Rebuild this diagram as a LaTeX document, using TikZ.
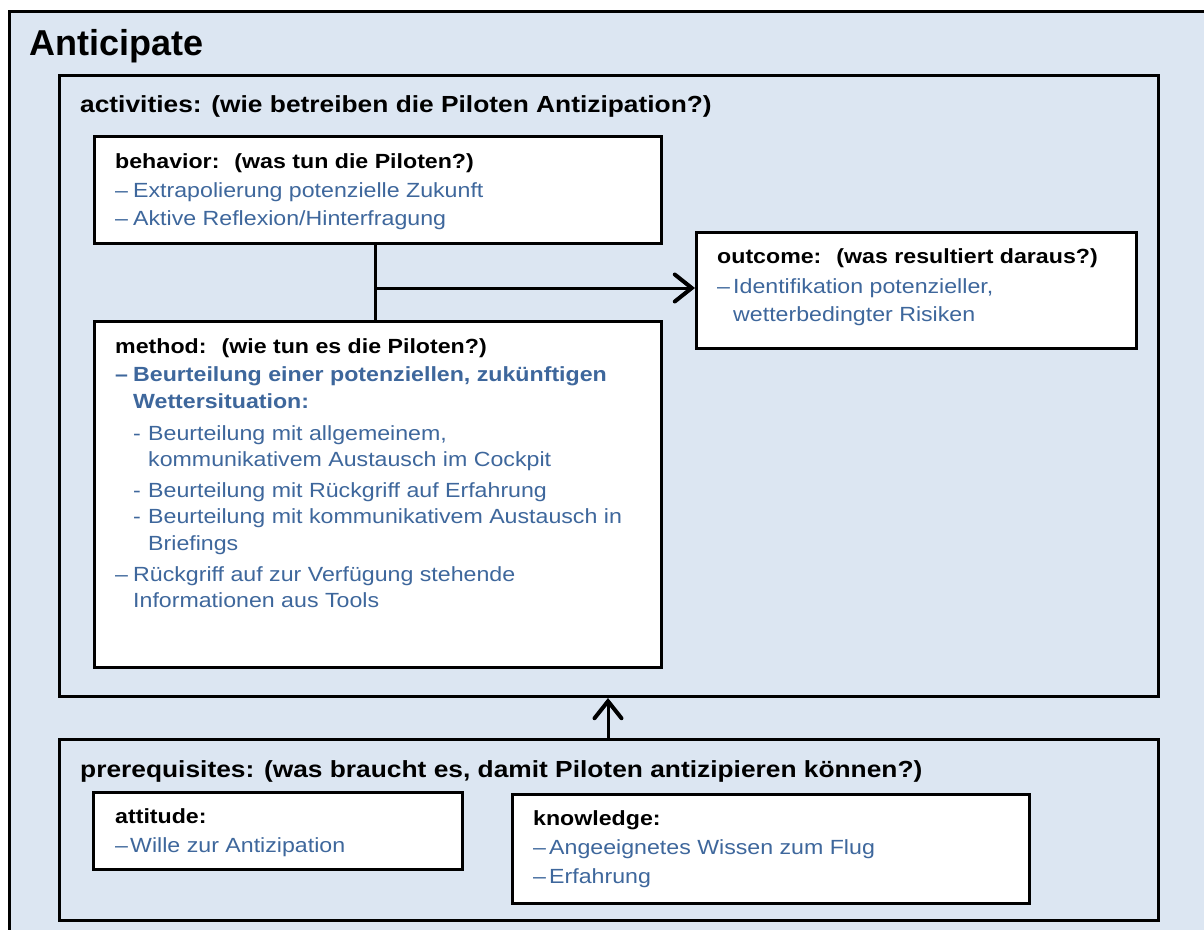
\documentclass[tikz,border=0pt]{standalone}
\usepackage{fontspec}
\setmainfont{Liberation Sans}
\newfontfamily\wide[FakeStretch=1.13]{Liberation Sans}
\usetikzlibrary{arrows.meta}
\definecolor{bgblue}{HTML}{DCE6F2}
\definecolor{txtblue}{HTML}{3E679C}
\tikzset{
  boxw/.style={draw=black, line width=3pt, fill=white, inner sep=0pt, anchor=north west},
  boxb/.style={draw=black, line width=3pt, fill=bgblue, inner sep=0pt, anchor=north west},
  lbl/.style={anchor=base west, inner sep=0pt, font=\wide\fontsize{20.5}{24}\selectfont},
  hd/.style={lbl, font=\wide\bfseries\fontsize{20.5}{24}\selectfont, text=black},
  sec/.style={anchor=base west, inner sep=0pt, font=\wide\bfseries\fontsize{23.3}{28}\selectfont, text=black},
  itm/.style={lbl, text=txtblue},
  itmb/.style={lbl, text=txtblue, font=\wide\bfseries\fontsize{20.5}{24}\selectfont},
  conn/.style={line width=3pt},
  arr/.style={line width=3pt, -{Straight Barb[length=17pt,width=27pt,line width=4pt,line cap=round]}}
}
\newcommand{\dsh}{\makebox[18pt][l]{–}}
\newcommand{\hy}{\makebox[15pt][l]{-}}
\begin{document}
\begin{tikzpicture}[x=1pt,y=-1pt]
\clip (0,0) rectangle (1204,929);
\fill[white] (0,0) rectangle (1204,929);
\draw[line width=3pt, fill=bgblue] (9,11) rectangle (1240,960);
\node[anchor=base west, inner sep=0pt, font=\bfseries\fontsize{36}{40}\selectfont] (title) at (29,55) {Anticipate};

% activities
\node[boxb, minimum width=1099pt, minimum height=621pt] (act) at (58,74) {};
\node[sec] (actt) at (80,112) {activities: (wie betreiben die Piloten Antizipation?)};

% behavior
\node[boxw, minimum width=567pt, minimum height=107pt] (beh) at (93,135) {};
\node[hd] (beht) at (115,168) {behavior: \ (was tun die Piloten?)};
\node[itm] (beh1) at (115,197) {\dsh Extrapolierung potenzielle Zukunft};
\node[itm] (beh2) at (115,225) {\dsh Aktive Reflexion/Hinterfragung};

% method
\node[boxw, minimum width=567pt, minimum height=346pt] (meth) at (93,320) {};
\node[hd] (metht) at (115,353) {method: \ (wie tun es die Piloten?)};
\node[itmb] (m1) at (115,381) {\dsh Beurteilung einer potenziellen, zukünftigen};
\node[itmb] (m2) at (133,408) {Wettersituation:};
\node[itm] (m3) at (133,440) {\hy Beurteilung mit allgemeinem,};
\node[itm] (m4) at (148,466) {kommunikativem Austausch im Cockpit};
\node[itm] (m5) at (133,497) {\hy Beurteilung mit Rückgriff auf Erfahrung};
\node[itm] (m6) at (133,523) {\hy Beurteilung mit kommunikativem Austausch in};
\node[itm] (m7) at (148,550) {Briefings};
\node[itm] (m8) at (115,581) {\dsh Rückgriff auf zur Verfügung stehende};
\node[itm] (m9) at (133,607) {Informationen aus Tools};

% outcome
\node[boxw, minimum width=440pt, minimum height=116pt] (out) at (695,231) {};
\node[hd] (outt) at (717,263) {outcome: \ (was resultiert daraus?)};
\node[itm] (out1) at (717,293) {\makebox[16pt][l]{–}Identifikation potenzieller,};
\node[itm] (out2) at (733,321) {wetterbedingter Risiken};

% connectors
\coordinate (jn) at (375,288);
\draw[conn] (beh.south -| jn) -- (meth.north -| jn);
\draw[arr] (jn) -- (out.west |- jn);

% prerequisites
\node[boxb, minimum width=1099pt, minimum height=181pt] (pre) at (58,738) {};
\node[sec] (pret) at (80,777) {prerequisites: (was braucht es, damit Piloten antizipieren können?)};
\coordinate (up) at (608,716);
\draw[arr] (pre.north -| up) -- (act.south -| up);

% attitude
\node[boxw, minimum width=369pt, minimum height=77pt] (att) at (92,791) {};
\node[hd] (attt) at (115,823) {attitude:};
\node[itm] (att1) at (115,852) {\makebox[15pt][l]{–}Wille zur Antizipation};

% knowledge
\node[boxw, minimum width=517pt, minimum height=109pt] (kn) at (511,793) {};
\node[hd] (knt) at (533,825) {knowledge:};
\node[itm] (kn1) at (533,854) {\makebox[16pt][l]{–}Angeeignetes Wissen zum Flug};
\node[itm] (kn2) at (533,883) {\makebox[16pt][l]{–}Erfahrung};
\end{tikzpicture}
\end{document}
